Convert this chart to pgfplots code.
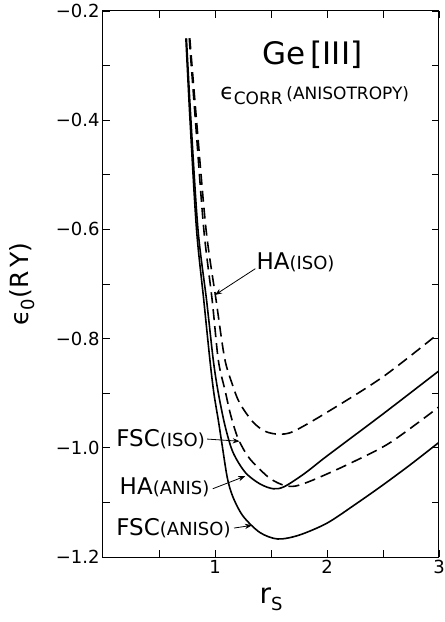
\documentclass[border=0pt]{standalone}
\usepackage{fontspec}
\setmainfont{DejaVu Sans}
\usepackage{pgfplots}
\pgfplotsset{compat=1.18}
\usetikzlibrary{arrows.meta}

\begin{document}
\begin{tikzpicture}
\useasboundingbox (-103pt,-65pt) rectangle (342pt,557pt);
\begin{axis}[
  at={(0pt,0pt)}, anchor=south west,
  scale only axis, width=336pt, height=546pt,
  xmin=0, xmax=3, ymin=-1.2, ymax=-0.2,
  xtick={0.5,1,1.5,2,2.5,3}, xticklabels={,1,,2,,3},
  ytick={-1.2,-1.1,-1.0,-0.9,-0.8,-0.7,-0.6,-0.5,-0.4,-0.3,-0.2},
  yticklabels={−1.2,,−1.0,,−0.8,,−0.6,,−0.4,,−0.2},
  major tick length=7pt,
  tick style={black, line width=0.8pt},
  axis line style={line width=1pt},
  ticklabel style={font=\fontsize{18}{18}\selectfont},
  xlabel={\fontsize{28}{28}\selectfont r\raisebox{-0.45ex}{\fontsize{18}{18}\selectfont S}},
  x label style={at={(axis description cs:0.5,-0.078)}, anchor=center},
  ylabel={\fontsize{25}{25}\selectfont ϵ\raisebox{-0.4ex}{\fontsize{18}{18}\selectfont 0}(R\,Y)},
  y label style={at={(axis description cs:-0.241,0.5)}, anchor=center},
]
% FSC(ANISO) - lower solid
\addplot[black, line width=1.6pt, smooth] coordinates {
(0.740,-0.25) (0.777,-0.40) (0.835,-0.60) (0.900,-0.73) (0.955,-0.84)
(0.990,-0.90) (1.030,-0.95) (1.060,-0.99) (1.110,-1.055) (1.160,-1.090)
(1.250,-1.125) (1.400,-1.155) (1.560,-1.167) (1.750,-1.160) (2.000,-1.138)
(2.250,-1.104) (2.500,-1.068) (2.750,-1.030) (3.000,-0.990)};
% upper solid
\addplot[black, line width=1.6pt, smooth] coordinates {
(0.745,-0.25) (0.785,-0.40) (0.848,-0.60) (0.925,-0.73) (0.985,-0.84)
(1.030,-0.90) (1.090,-0.96) (1.160,-1.008) (1.270,-1.045) (1.400,-1.066)
(1.520,-1.075) (1.620,-1.071) (1.800,-1.047) (2.000,-1.015) (2.500,-0.938)
(3.000,-0.859)};
% lower dashed
\addplot[black, line width=1.6pt, smooth, dash pattern=on 11pt off 6pt] coordinates {
(0.770,-0.25) (0.825,-0.40) (0.900,-0.60) (0.975,-0.73) (1.030,-0.84)
(1.090,-0.895) (1.140,-0.94) (1.200,-0.980) (1.270,-1.008) (1.340,-1.027)
(1.490,-1.056) (1.620,-1.069) (1.720,-1.070) (1.875,-1.059) (2.180,-1.031)
(2.560,-0.991) (3.000,-0.925)};
% upper dashed
\addplot[black, line width=1.6pt, smooth, dash pattern=on 11pt off 6pt] coordinates {
(0.775,-0.25) (0.835,-0.40) (0.920,-0.60) (1.010,-0.73) (1.085,-0.835)
(1.150,-0.881) (1.220,-0.918) (1.340,-0.953) (1.450,-0.970) (1.570,-0.975)
(1.700,-0.970) (2.000,-0.935) (2.500,-0.870) (3.000,-0.790)};

\node[font=\fontsize{31}{31}\selectfont] at (axis cs:1.87,-0.28) {Ge\,[III]};
\node at (axis cs:1.89,-0.355) {\fontsize{22}{22}\selectfont ϵ\raisebox{-0.35ex}{\fontsize{17}{17}\selectfont CORR}\,\fontsize{17}{17}\selectfont(ANISOTROPY)};

\node[anchor=west, inner sep=1pt] at (axis cs:1.36,-0.66) {\fontsize{23}{23}\selectfont HA\fontsize{18}{18}\selectfont(ISO)};
\draw[-{Stealth[length=7pt]}, line width=0.8pt] (axis cs:1.36,-0.672) -- (axis cs:1.0,-0.72);

\node[anchor=east, inner sep=1pt] at (axis cs:0.92,-0.984) {\fontsize{23}{23}\selectfont FSC\fontsize{18}{18}\selectfont(ISO)};
\draw[-{Stealth[length=7pt]}, line width=0.8pt] (axis cs:0.93,-0.984) -- (axis cs:1.22,-0.988);

\node[anchor=east, inner sep=1pt] at (axis cs:0.96,-1.072) {\fontsize{23}{23}\selectfont HA\fontsize{18}{18}\selectfont(ANIS)};
\draw[-{Stealth[length=7pt]}, line width=0.8pt] (axis cs:0.98,-1.075) -- (axis cs:1.27,-1.052);

\node[anchor=east, inner sep=1pt] at (axis cs:1.15,-1.147) {\fontsize{23}{23}\selectfont FSC\fontsize{18}{18}\selectfont(ANISO)};
\draw[-{Stealth[length=7pt]}, line width=0.8pt] (axis cs:1.17,-1.147) -- (axis cs:1.33,-1.142);
\end{axis}
\end{tikzpicture}
\end{document}
